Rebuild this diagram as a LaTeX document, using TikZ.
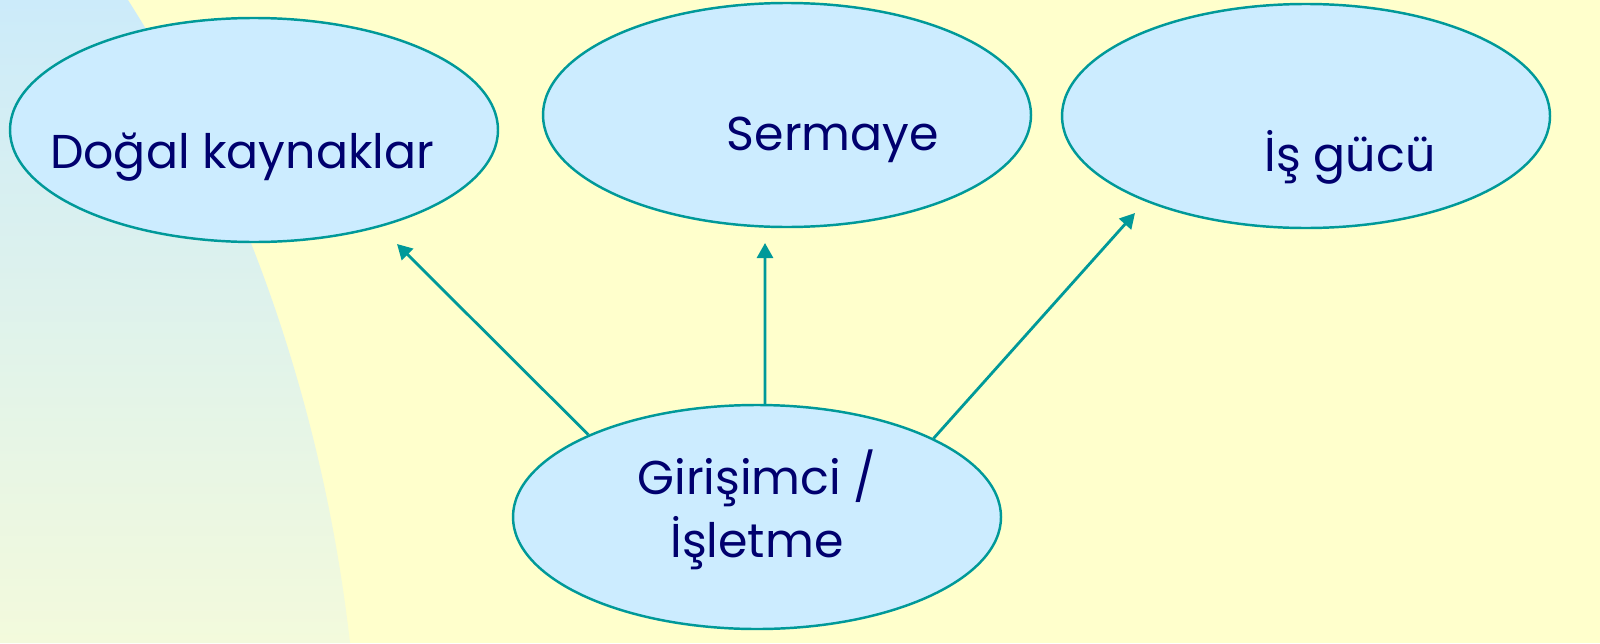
\documentclass[tikz,border=0pt]{standalone}
\usepackage{fontspec}
\setmainfont{Poppins}
\usepackage{tikz}
\usetikzlibrary{shapes.geometric,arrows.meta}

\definecolor{paleyellow}{RGB}{255,255,204}
\definecolor{sidetop}{RGB}{204,235,250}
\definecolor{sidebottom}{RGB}{243,250,220}
\definecolor{ovalblue}{RGB}{204,236,255}
\definecolor{tealline}{RGB}{0,153,153}
\definecolor{navytext}{RGB}{0,0,110}

\begin{document}
\begin{tikzpicture}[
    oval/.style={ellipse, draw=tealline, fill=ovalblue, line width=.7pt,
                 minimum width=4.88cm, minimum height=2.24cm, inner sep=0pt},
    ovaltext/.style={text=navytext, font=\fontsize{13.5}{18}\selectfont, align=center, anchor=base},
    link/.style={draw=tealline, line width=.8pt, -{Triangle[length=1.5mm,width=1.6mm]}}
]
\useasboundingbox (0,0) rectangle (16,6.43);
\fill[paleyellow] (0,0) rectangle (16,6.43);
\shade[top color=sidetop, bottom color=sidebottom] (0,6.43) -- (1.28,6.43)
      .. controls (2.3,4.83) and (3.2,2.63) .. (3.5,0) -- (0,0) -- cycle;

\node[oval, label={[ovaltext, xshift=-.12cm, yshift=-.27cm]center:Doğal kaynaklar}] (dogal) at (2.54,5.13) {};
\node[oval, label={[ovaltext, xshift=.46cm, yshift=-.25cm]center:Sermaye}] (sermaye) at (7.87,5.28) {};
\node[oval, label={[ovaltext, xshift=.44cm, yshift=-.41cm]center:İş gücü}] (isgucu) at (13.06,5.27) {};
\node[oval, label={[ovaltext, yshift=.07cm]center:Girişimci /\\İşletme}] (girisimci) at (7.57,1.26) {};

% arrow tips stop short of the ovals
\coordinate (tipdogal) at (3.97,3.99);
\coordinate (tipsermaye) at (7.65,4.00);
\coordinate (tipisgucu) at (11.35,4.30);

\draw[link] (girisimci.154) -- (tipdogal);
\draw[link] (girisimci.86) -- (tipsermaye);
\draw[link] (girisimci.24) -- (tipisgucu);
\end{tikzpicture}
\end{document}
